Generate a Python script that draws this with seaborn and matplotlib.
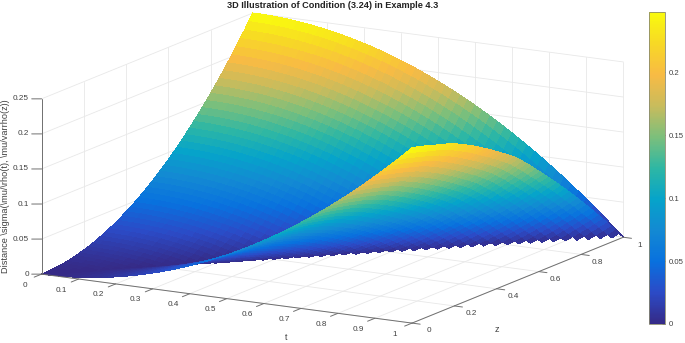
"""3D surface of the distance sigma over (t, z), drawn with mplot3d and a parula style colormap."""
import numpy as np
import matplotlib
matplotlib.use("Agg")
import matplotlib.pyplot as plt
from matplotlib.cm import ScalarMappable
from matplotlib.colors import Normalize
from mpl_toolkits.mplot3d import proj3d
import seaborn as sns

# grid of the surface, t and z run over the same points
t_grid = [0.00, 0.02, 0.04, 0.06, 0.08, 0.10, 0.12, 0.14, 0.16, 0.18, 0.20, 0.22, 0.24,
          0.26, 0.28, 0.30, 0.32, 0.34, 0.36, 0.38, 0.40, 0.42, 0.44, 0.46, 0.48, 0.50,
          0.52, 0.54, 0.56, 0.58, 0.60, 0.62, 0.64, 0.66, 0.68, 0.70, 0.72, 0.74, 0.76,
          0.78, 0.80, 0.82, 0.84, 0.86, 0.88, 0.90, 0.92, 0.94, 0.96, 0.98, 1.00]
z_grid = list(t_grid)

# sigma, in 1/10000, one row per t, for z from 0 up to t
sigma_rows = [
    [0],
    [1, 0],
    [4, 3, 0],
    [9, 8, 5, 0],
    [16, 15, 12, 7, 0],
    [25, 24, 21, 16, 9, 0],
    [36, 35, 32, 27, 20, 11, 0],
    [49, 48, 45, 40, 33, 24, 13, 0],
    [64, 63, 60, 55, 48, 39, 28, 15, 0],
    [81, 80, 77, 72, 65, 56, 45, 32, 17, 0],
    [100, 99, 96, 91, 84, 75, 64, 51, 36, 19, 0],
    [121, 120, 117, 112, 105, 96, 85, 72, 57, 40, 21, 0],
    [144, 143, 140, 135, 128, 119, 108, 95, 80, 63, 44, 23, 0],
    [169, 168, 165, 160, 153, 144, 133, 120, 105, 88, 69, 48, 25, 0],
    [196, 195, 192, 187, 180, 171, 160, 147, 132, 115, 96, 75, 52, 27, 0],
    [225, 224, 221, 216, 209, 200, 189, 176, 161, 144, 125, 104, 81, 56, 29, 0],
    [256, 255, 252, 247, 240, 231, 220, 207, 192, 175, 156, 135, 112, 87, 60, 31, 0],
    [289, 288, 285, 280, 273, 264, 253, 240, 225, 208, 189, 168, 145, 120, 93, 64, 33, 0],
    [324, 323, 320, 315, 308, 299, 288, 275, 260, 243, 224, 203, 180, 155, 128, 99, 68, 35, 0],
    [361, 360, 357, 352, 345, 336, 325, 312, 297, 280, 261, 240, 217, 192, 165, 136, 105, 72, 37, 0],
    [400, 399, 396, 391, 384, 375, 364, 351, 336, 319, 300, 279, 256, 231, 204, 175, 144, 111, 76, 39, 0],
    [441, 440, 437, 432, 425, 416, 405, 392, 377, 360, 341, 320, 297, 272, 245, 216, 185, 152, 117, 80, 41, 0],
    [484, 483, 480, 475, 468, 459, 448, 435, 420, 403, 384, 363, 340, 315, 288, 259, 228, 195, 160, 123, 84, 43, 0],
    [529, 528, 525, 520, 513, 504, 493, 480, 465, 448, 429, 408, 385, 360, 333, 304, 273, 240, 205, 168, 129, 88, 45, 0],
    [576, 575, 572, 567, 560, 551, 540, 527, 512, 495, 476, 455, 432, 407, 380, 351, 320, 287, 252, 215, 176, 135, 92, 47, 0],
    [625, 624, 621, 616, 609, 600, 589, 576, 561, 544, 525, 504, 481, 456, 429, 400, 369, 336, 301, 264, 225, 184, 141, 96, 49, 0],
    [676, 675, 672, 667, 660, 651, 640, 627, 612, 595, 576, 555, 532, 507, 480, 451, 420, 387, 352, 315, 276, 235, 192, 147, 100, 51, 0],
    [729, 728, 725, 720, 713, 704, 693, 680, 665, 648, 629, 608, 585, 560, 533, 504, 473, 440, 405, 368, 329, 288, 245, 200, 153, 104, 53, 0],
    [784, 783, 780, 775, 768, 759, 748, 735, 720, 703, 684, 663, 640, 615, 588, 559, 528, 495, 460, 423, 384, 343, 300, 255, 208, 159, 108, 55, 0],
    [841, 840, 837, 832, 825, 816, 805, 792, 777, 760, 741, 720, 697, 672, 645, 616, 585, 552, 517, 480, 441, 400, 357, 312, 265, 216, 165, 112, 57, 0],
    [900, 899, 896, 891, 884, 875, 864, 851, 836, 819, 800, 779, 756, 731, 704, 675, 644, 611, 576, 539, 500, 459, 416, 371, 324, 275, 224, 171, 116, 59, 0],
    [961, 960, 957, 952, 945, 936, 925, 912, 897, 880, 861, 840, 817, 792, 765, 736, 705, 672, 637, 600, 561, 520, 477, 432, 385, 336, 285, 232, 177, 120, 61, 0],
    [1024, 1023, 1020, 1015, 1008, 999, 988, 975, 960, 943, 924, 903, 880, 855, 828, 799, 768, 735, 700, 663, 624, 583, 540, 495, 448, 399, 348, 295, 240, 183, 124, 63, 0],
    [1089, 1088, 1085, 1080, 1073, 1064, 1053, 1040, 1025, 1008, 989, 968, 945, 920, 893, 864, 833, 800, 765, 728, 689, 648, 605, 560, 513, 464, 413, 360, 305, 248, 189, 128, 65, 0],
    [1156, 1155, 1152, 1147, 1140, 1131, 1120, 1107, 1092, 1075, 1056, 1035, 1012, 987, 960, 931, 900, 867, 832, 795, 756, 715, 672, 627, 580, 531, 480, 427, 372, 315, 256, 195, 132, 67, 0],
    [1225, 1224, 1221, 1216, 1209, 1200, 1189, 1176, 1161, 1144, 1125, 1104, 1081, 1056, 1029, 1000, 969, 936, 901, 864, 825, 784, 741, 696, 649, 600, 549, 496, 441, 384, 325, 264, 201, 136, 69, 0],
    [1296, 1295, 1292, 1287, 1280, 1271, 1260, 1247, 1232, 1215, 1196, 1175, 1152, 1127, 1100, 1071, 1040, 1007, 972, 935, 896, 855, 812, 767, 720, 671, 620, 567, 512, 455, 396, 335, 272, 207, 140, 71, 0],
    [1369, 1368, 1365, 1360, 1353, 1344, 1333, 1320, 1305, 1288, 1269, 1248, 1225, 1200, 1173, 1144, 1113, 1080, 1045, 1008, 969, 928, 885, 840, 793, 744, 693, 640, 585, 528, 469, 408, 345, 280, 213, 144, 73, 0],
    [1444, 1443, 1440, 1435, 1428, 1419, 1408, 1395, 1380, 1363, 1344, 1323, 1300, 1275, 1248, 1219, 1188, 1155, 1120, 1083, 1044, 1003, 960, 915, 868, 819, 768, 715, 660, 603, 544, 483, 420, 355, 288, 219, 148, 75, 0],
    [1521, 1520, 1517, 1512, 1505, 1496, 1485, 1472, 1457, 1440, 1421, 1400, 1377, 1352, 1325, 1296, 1265, 1232, 1197, 1160, 1121, 1080, 1037, 992, 945, 896, 845, 792, 737, 680, 621, 560, 497, 432, 365, 296, 225, 152, 77, 0],
    [1600, 1599, 1596, 1591, 1584, 1575, 1564, 1551, 1536, 1519, 1500, 1479, 1456, 1431, 1404, 1375, 1344, 1311, 1276, 1239, 1200, 1159, 1116, 1071, 1024, 975, 924, 871, 816, 759, 700, 639, 576, 511, 444, 375, 304, 231, 156, 79, 0],
    [1681, 1680, 1677, 1672, 1665, 1656, 1645, 1632, 1617, 1600, 1581, 1560, 1537, 1512, 1485, 1456, 1425, 1392, 1357, 1320, 1281, 1240, 1197, 1152, 1105, 1056, 1005, 952, 897, 840, 781, 720, 657, 592, 525, 456, 385, 312, 237, 160, 81, 0],
    [1764, 1763, 1760, 1755, 1748, 1739, 1728, 1715, 1700, 1683, 1664, 1643, 1620, 1595, 1568, 1539, 1508, 1475, 1440, 1403, 1364, 1323, 1280, 1235, 1188, 1139, 1088, 1035, 980, 923, 864, 803, 740, 675, 608, 539, 468, 395, 320, 243, 164, 83, 0],
    [1849, 1848, 1845, 1840, 1833, 1824, 1813, 1800, 1785, 1768, 1749, 1728, 1705, 1680, 1653, 1624, 1593, 1560, 1525, 1488, 1449, 1408, 1365, 1320, 1273, 1224, 1173, 1120, 1065, 1008, 949, 888, 825, 760, 693, 624, 553, 480, 405, 328, 249, 168, 85, 0],
    [1936, 1935, 1932, 1927, 1920, 1911, 1900, 1887, 1872, 1855, 1836, 1815, 1792, 1767, 1740, 1711, 1680, 1647, 1612, 1575, 1536, 1495, 1452, 1407, 1360, 1311, 1260, 1207, 1152, 1095, 1036, 975, 912, 847, 780, 711, 640, 567, 492, 415, 336, 255, 172, 87, 0],
    [2025, 2024, 2021, 2016, 2009, 2000, 1989, 1976, 1961, 1944, 1925, 1904, 1881, 1856, 1829, 1800, 1769, 1736, 1701, 1664, 1625, 1584, 1541, 1496, 1449, 1400, 1349, 1296, 1241, 1184, 1125, 1064, 1001, 936, 869, 800, 729, 656, 581, 504, 425, 344, 261, 176, 89, 0],
    [2116, 2115, 2112, 2107, 2100, 2091, 2080, 2067, 2052, 2035, 2016, 1995, 1972, 1947, 1920, 1891, 1860, 1827, 1792, 1755, 1716, 1675, 1632, 1587, 1540, 1491, 1440, 1387, 1332, 1275, 1216, 1155, 1092, 1027, 960, 891, 820, 747, 672, 595, 516, 435, 352, 267, 180, 91, 0],
    [2209, 2208, 2205, 2200, 2193, 2184, 2173, 2160, 2145, 2128, 2109, 2088, 2065, 2040, 2013, 1984, 1953, 1920, 1885, 1848, 1809, 1768, 1725, 1680, 1633, 1584, 1533, 1480, 1425, 1368, 1309, 1248, 1185, 1120, 1053, 984, 913, 840, 765, 688, 609, 528, 445, 360, 273, 184, 93, 0],
    [2304, 2303, 2300, 2295, 2288, 2279, 2268, 2255, 2240, 2223, 2204, 2183, 2160, 2135, 2108, 2079, 2048, 2015, 1980, 1943, 1904, 1863, 1820, 1775, 1728, 1679, 1628, 1575, 1520, 1463, 1404, 1343, 1280, 1215, 1148, 1079, 1008, 935, 860, 783, 704, 623, 540, 455, 368, 279, 188, 95, 0],
    [2401, 2400, 2397, 2392, 2385, 2376, 2365, 2352, 2337, 2320, 2301, 2280, 2257, 2232, 2205, 2176, 2145, 2112, 2077, 2040, 2001, 1960, 1917, 1872, 1825, 1776, 1725, 1672, 1617, 1560, 1501, 1440, 1377, 1312, 1245, 1176, 1105, 1032, 957, 880, 801, 720, 637, 552, 465, 376, 285, 192, 97, 0],
    [2500, 2499, 2496, 2491, 2484, 2475, 2464, 2451, 2436, 2419, 2400, 2379, 2356, 2331, 2304, 2275, 2244, 2211, 2176, 2139, 2100, 2059, 2016, 1971, 1924, 1875, 1824, 1771, 1716, 1659, 1600, 1539, 1476, 1411, 1344, 1275, 1204, 1131, 1056, 979, 900, 819, 736, 651, 564, 475, 384, 291, 196, 99, 0],
]

# the front lobe (t > z) sits a little lower than the back one, ratio read per z
front_ratio = [1.00, 0.995, 0.99, 0.985, 0.98, 0.975, 0.972, 0.97, 0.968, 0.966, 0.964, 0.96, 0.957,
               0.953, 0.95, 0.947, 0.943, 0.94, 0.937, 0.935, 0.932, 0.93, 0.93, 0.928, 0.928, 0.925,
               0.92, 0.915, 0.91, 0.90, 0.895, 0.89, 0.885, 0.88, 0.875, 0.87, 0.865, 0.86, 0.855,
               0.85, 0.845, 0.84, 0.835, 0.83, 0.83, 0.825, 0.825, 0.82, 0.82, 0.82, 0.82]

t_ticks = [0, 0.1, 0.2, 0.3, 0.4, 0.5, 0.6, 0.7, 0.8, 0.9, 1]
z_ticks = [0, 0.2, 0.4, 0.6, 0.8, 1]
sigma_ticks = [0, 0.05, 0.1, 0.15, 0.2, 0.25]
cbar_ticks = [0, 0.05, 0.1, 0.15, 0.2]
sigma_top = 0.248

parula_anchors = [
    (0.2081, 0.1663, 0.5292), (0.1707, 0.2919, 0.7792), (0.0329, 0.4430, 0.8720),
    (0.0749, 0.5375, 0.8263), (0.0231, 0.6418, 0.7913), (0.1801, 0.7177, 0.6424),
    (0.4871, 0.7491, 0.4840), (0.7858, 0.7356, 0.3633), (0.9739, 0.7314, 0.2666),
    (0.9697, 0.8481, 0.1475), (0.9763, 0.9831, 0.0538),
]

GRID = "#e8e8e8"
AXIS = "#707070"
TEXT = "#404040"


def fmt(v):
    return f"{v:g}"


def build_table():
    back = np.zeros((len(t_grid), len(z_grid)))
    for k, row in enumerate(sigma_rows):
        back[k, :len(row)] = row
    front = back * np.array(front_ratio)
    return (front + back.T) / 10000


def draw_walls(ax):
    # back walls and floor, drawn first so the surface covers them
    style = dict(color=GRID, lw=0.6, zorder=1)
    for v in t_ticks:
        ax.plot([v, v], [0, 1], [0, 0], **style)
        ax.plot([v, v], [1, 1], [0, 0.25], **style)
    for v in z_ticks:
        ax.plot([0, 1], [v, v], [0, 0], **style)
        ax.plot([0, 0], [v, v], [0, 0.25], **style)
    for v in sigma_ticks:
        ax.plot([0, 0], [0, 1], [v, v], **style)
        ax.plot([0, 1], [1, 1], [v, v], **style)


def put_label(ax, x, y, z, text, ha):
    # text2D at the projected spot, so the text box is known before drawing
    px, py, _ = proj3d.proj_transform(x, y, z, ax.get_proj())
    ax.text2D(px, py, text, transform=ax.transData, ha=ha, va="center",
              color=TEXT, fontsize=5.9, zorder=4)


def draw_axes(ax):
    style = dict(color=AXIS, lw=0.7, zorder=3)
    ax.plot([0, 1], [0, 0], [0, 0], **style)
    ax.plot([1, 1], [0, 1], [0, 0], **style)
    ax.plot([0, 0], [0, 0], [0, 0.25], **style)
    for v in t_ticks:
        ax.plot([v, v], [0, -0.035], [0, 0], **style)
        put_label(ax, v, -0.08, -0.006, fmt(v), "center")
    for v in z_ticks:
        ax.plot([1, 1.022], [v, v], [0, 0], **style)
        put_label(ax, 1.045, v, -0.008, fmt(v), "center")
    for v in sigma_ticks:
        ax.plot([0, -0.02], [0, -0.0116], [v, v], **style)
        put_label(ax, -0.026, -0.015, v, fmt(v), "right")


def main():
    sns.set_theme(style="white")
    plt.rcParams["font.family"] = ["Liberation Sans", "DejaVu Sans"]
    parula = sns.blend_palette(parula_anchors, n_colors=256, as_cmap=True)

    fig = plt.figure(figsize=(6.85, 3.43), dpi=100)
    ax = fig.add_axes([-27 / 685, -184.5 / 343, 700 / 685, 700 / 343], projection="3d")
    ax.set_proj_type("ortho")
    ax.view_init(elev=13.4, azim=-60.3)
    ax.set_box_aspect((1, 1, 0.4225), zoom=0.873)
    ax.set_axis_off()
    ax.computed_zorder = False
    ax.patch.set_alpha(0)
    ax.set_xlim(0, 1, view_margin=0)
    ax.set_ylim(0, 1, view_margin=0)
    ax.set_zlim(0, 0.25, view_margin=0)

    sigma = build_table()
    T, Z = np.meshgrid(t_grid, z_grid, indexing="ij")
    ax.plot_surface(T, Z, sigma, cmap=parula, vmin=0, vmax=sigma_top, rstride=1, cstride=1,
                    linewidth=0, antialiased=False, zorder=2)

    draw_walls(ax)
    draw_axes(ax)

    fig.text(333 / 685, 1 - 6 / 343, "3D Illustration of Condition (3.24) in Example 4.3",
             ha="center", va="center", fontsize=6.6, fontweight="bold", color="#222222")
    fig.text(286 / 685, 1 - 338 / 343, "t", ha="center", va="center", fontsize=6.5, color=TEXT)
    fig.text(497 / 685, 1 - 329 / 343, "z", ha="center", va="center", fontsize=6.5, color=TEXT)
    fig.text(6 / 685, 1 - 186 / 343, r"Distance \sigma(\mu/\rho(t), \mu/varrho(z))", rotation=90,
             ha="center", va="center", fontsize=6.6, color=TEXT)

    cax = fig.add_axes([649 / 685, 19 / 343, 16 / 685, 312 / 343])
    cbar = fig.colorbar(ScalarMappable(Normalize(0, sigma_top), parula), cax=cax)
    cbar.set_ticks(cbar_ticks, labels=[fmt(v) for v in cbar_ticks])
    cax.tick_params(direction="in", length=2, width=0.5, labelsize=5.6, colors=TEXT, pad=2.5, right=True)
    cbar.outline.set_edgecolor("#8a8a70")
    cbar.outline.set_linewidth(0.6)

    fig.savefig("out.png", dpi=100)


if __name__ == "__main__":
    main()
